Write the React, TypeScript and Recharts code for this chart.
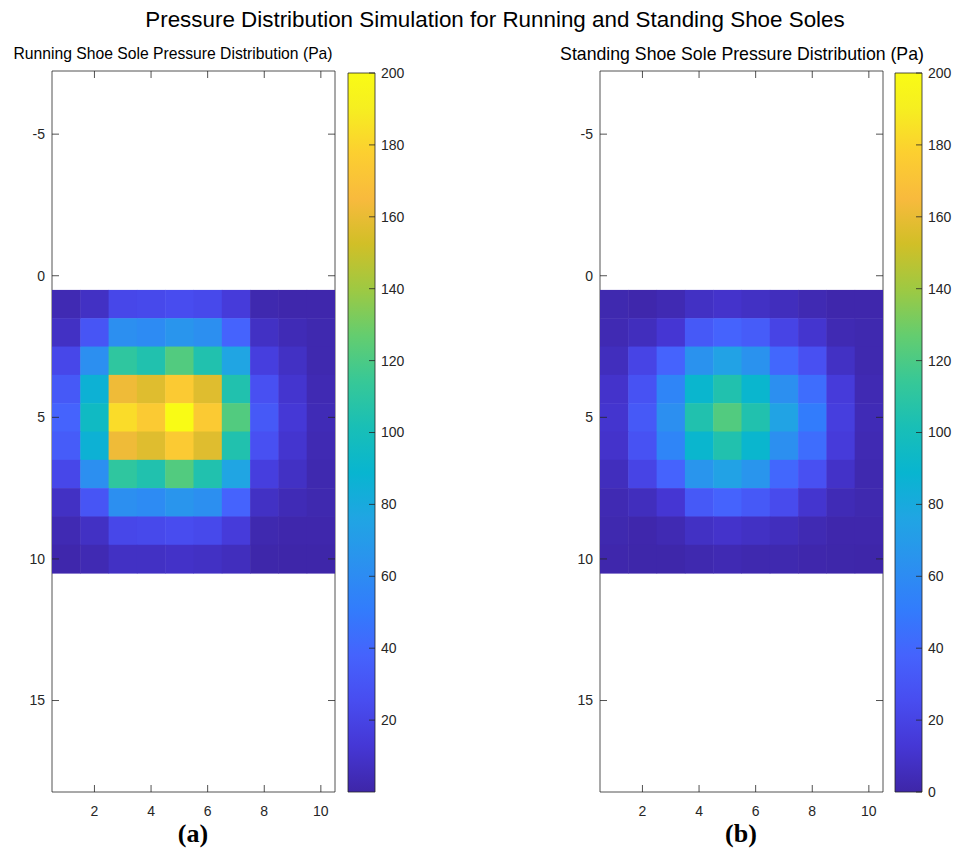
import { ScatterChart, Scatter, XAxis, YAxis, BarChart, Bar, ReferenceArea } from "recharts";

// pressure grids (Pa), rows top -> bottom, columns 1..10
const RUNNING = [
  [3, 8, 22, 23, 25, 23, 15, 2, 1, 1],
  [8, 30, 62, 60, 66, 62, 38, 8, 4, 2],
  [22, 62, 111, 105, 122, 105, 76, 17, 8, 2],
  [32, 86, 162, 157, 175, 157, 105, 27, 11, 3],
  [38, 95, 183, 175, 200, 175, 122, 32, 13, 4],
  [34, 86, 162, 157, 175, 157, 105, 27, 11, 3],
  [22, 62, 111, 105, 122, 105, 76, 17, 8, 2],
  [8, 30, 62, 60, 66, 62, 38, 8, 4, 2],
  [3, 8, 22, 23, 25, 23, 15, 2, 1, 1],
  [1, 3, 8, 8, 9, 8, 6, 0.5, 0.3, 0.2],
];

const STANDING = [
  [2, 1, 3, 8, 10, 8, 6, 3, 1, 1],
  [3, 6, 12, 32, 38, 34, 20, 11, 3, 2],
  [6, 20, 38, 64, 74, 64, 40, 27, 8, 2],
  [10, 28, 56, 90, 105, 90, 62, 43, 15, 3],
  [11, 32, 62, 105, 122, 105, 75, 51, 17, 4],
  [10, 28, 56, 90, 105, 90, 62, 43, 15, 3],
  [6, 20, 38, 66, 74, 66, 40, 27, 9, 2],
  [3, 6, 12, 32, 38, 32, 24, 11, 4, 2],
  [2, 1, 3, 8, 10, 8, 6, 3, 1, 1],
  [1, 0.5, 0.5, 2, 3, 2, 2, 1, 0.5, 0.3],
];

const X_TICKS = [2, 4, 6, 8, 10];
const Y_TICKS = [-5, 0, 5, 10, 15];
const CB_TICKS_RUNNING = [20, 40, 60, 80, 100, 120, 140, 160, 180, 200];
const CB_TICKS_STANDING = [0, 20, 40, 60, 80, 100, 120, 140, 160, 180, 200];
const CB_MAX = 200;

const X_DOMAIN: [number, number] = [0.5, 10.5];
const Y_DOMAIN: [number, number] = [-7.23, 18.23];

// parula colormap stops
const PARULA: [number, number, number, number][] = [
  [0.0, 62, 38, 168],
  [0.0635, 69, 55, 213],
  [0.127, 72, 77, 240],
  [0.19, 69, 99, 253],
  [0.254, 50, 124, 252],
  [0.317, 43, 145, 239],
  [0.381, 32, 165, 227],
  [0.444, 8, 181, 208],
  [0.508, 25, 191, 182],
  [0.571, 55, 200, 151],
  [0.635, 100, 205, 111],
  [0.698, 157, 201, 67],
  [0.762, 209, 191, 39],
  [0.825, 248, 186, 61],
  [0.889, 252, 207, 48],
  [0.952, 246, 239, 32],
  [1.0, 249, 251, 21],
];

function parula(t: number) {
  const v = Math.max(0, Math.min(1, t));
  for (let i = 1; i < PARULA.length; i++) {
    const [t1, r1, g1, b1] = PARULA[i];
    const [t0, r0, g0, b0] = PARULA[i - 1];
    if (v <= t1) {
      const f = (v - t0) / (t1 - t0);
      return `rgb(${Math.round(r0 + (r1 - r0) * f)},${Math.round(g0 + (g1 - g0) * f)},${Math.round(b0 + (b1 - b0) * f)})`;
    }
  }
  return "rgb(249,251,21)";
}

const FONT = "'Liberation Sans', Arial, sans-serif";
const TICK_TEXT = { fill: "#262626", fontSize: 14, fontFamily: FONT };
const LINE = { stroke: "#262626", strokeWidth: 0.8 };

const PLOT_W = 283;
const PLOT_H = 721;
const TICK_LEN = 7;
const X_LABEL_GAP = 14;

// bottom x tick: label + inward marks at bottom and top of the box
const XTick = (p: any) => {
  const x = p.x;
  const yAxis = p.y - X_LABEL_GAP;
  return (
    <g>
      <line x1={x} x2={x} y1={yAxis} y2={yAxis - TICK_LEN} {...LINE} />
      <line x1={x} x2={x} y1={yAxis - PLOT_H} y2={yAxis - PLOT_H + TICK_LEN} {...LINE} />
      <text x={x} y={p.y} dy="0.71em" textAnchor="middle" {...TICK_TEXT}>{p.payload.value}</text>
    </g>
  );
};

// left y tick: label + inward marks at left and right of the box
const YTick = (p: any) => {
  const y = p.y;
  const xAxis = p.x + 7;
  return (
    <g>
      <line x1={xAxis} x2={xAxis + TICK_LEN} y1={y} y2={y} {...LINE} />
      <line x1={xAxis + PLOT_W} x2={xAxis + PLOT_W - TICK_LEN} y1={y} y2={y} {...LINE} />
      <text x={p.x} y={y} dy="0.355em" textAnchor="end" {...TICK_TEXT}>{p.payload.value}</text>
    </g>
  );
};

// colorbar tick: label + inward mark on the right edge
const CbTick = (p: any) => {
  const y = p.y;
  const xAxis = p.x - 6;
  return (
    <g>
      <line x1={xAxis - 6} x2={xAxis} y1={y} y2={y} {...LINE} />
      <text x={p.x} y={y} dy="0.355em" textAnchor="start" {...TICK_TEXT}>{p.payload.value}</text>
    </g>
  );
};

function HeatPanel({ grid, left }: { grid: number[][]; left: number }) {
  const cells = grid.flatMap((row, r) => row.map((v, c) => ({ x: c + 1, y: r + 1, v })));
  const cw = PLOT_W / (X_DOMAIN[1] - X_DOMAIN[0]);
  const ch = PLOT_H / (Y_DOMAIN[1] - Y_DOMAIN[0]);
  const cell = (p: any) => (
    <rect
      x={p.cx - cw / 2}
      y={p.cy - ch / 2}
      width={cw + 0.5}
      height={ch + 0.5}
      fill={parula(p.payload.v / CB_MAX)}
    />
  );
  return (
    <div style={{ position: "absolute", left, top: 0 }}>
      <ScatterChart width={400} height={853} margin={{ top: 71, right: 65, bottom: 31, left: 12 }}>
        <XAxis xAxisId="b" type="number" dataKey="x" domain={X_DOMAIN} ticks={X_TICKS} allowDataOverflow
          height={30} tickLine={false} axisLine={false} tickSize={0} tickMargin={X_LABEL_GAP} tick={(p: any) => <XTick {...p} />} interval={0} />
        <YAxis yAxisId="l" type="number" dataKey="y" domain={Y_DOMAIN} reversed ticks={Y_TICKS} allowDataOverflow
          width={40} tickLine={false} axisLine={false} tickSize={0} tickMargin={7} tick={(p: any) => <YTick {...p} />} interval={0} />
        <Scatter xAxisId="b" yAxisId="l" data={cells} shape={cell} isAnimationActive={false} />
        <ReferenceArea xAxisId="b" yAxisId="l" x1={X_DOMAIN[0]} x2={X_DOMAIN[1]} y1={Y_DOMAIN[0]} y2={Y_DOMAIN[1]}
          fill="none" fillOpacity={0} stroke="#262626" strokeWidth={0.8} ifOverflow="visible" />
      </ScatterChart>
    </div>
  );
}

function ColorBar({ left, ticks, id }: { left: number; ticks: number[]; id: string }) {
  return (
    <div style={{ position: "absolute", left: left - 8, top: 0 }}>
      <BarChart width={80} height={853} data={[{ name: "cb", v: CB_MAX }]} barCategoryGap={0}
        margin={{ top: 73, right: 0, bottom: 61, left: 8 }}>
        <XAxis dataKey="name" hide />
        <YAxis orientation="right" type="number" domain={[0, CB_MAX]} ticks={ticks} width={45}
          tickLine={false} axisLine={false} tickSize={0} tickMargin={6} tick={(p: any) => <CbTick {...p} />} interval={0} />
        <Bar dataKey="v" fill={`url(#${id})`} stroke="#262626" strokeWidth={0.8} isAnimationActive={false} />
      </BarChart>
    </div>
  );
}

export default function App() {
  return (
    <div style={{ position: "absolute", left: 0, top: 0, width: 966, height: 853, background: "#fff", fontFamily: FONT }}>
      <svg width={0} height={0} style={{ position: "absolute" }}>
        <defs>
          {["cbA", "cbB"].map((id) => (
            <linearGradient key={id} id={id} x1="0" y1="1" x2="0" y2="0">
              {PARULA.map(([t, r, g, b]) => (
                <stop key={t} offset={t} stopColor={`rgb(${r},${g},${b})`} />
              ))}
            </linearGradient>
          ))}
        </defs>
      </svg>

      <div style={{ position: "absolute", left: 0, width: 990, top: 9, textAlign: "center", fontSize: 22.4, lineHeight: "22px", color: "#000" }}>
        Pressure Distribution Simulation for Running and Standing Shoe Soles
      </div>
      <div style={{ position: "absolute", left: 0, width: 346, top: 46, textAlign: "center", fontSize: 15.7, lineHeight: "16px", color: "#000" }}>
        Running Shoe Sole Pressure Distribution (Pa)
      </div>
      <div style={{ position: "absolute", left: 542, width: 400, top: 46, textAlign: "center", fontSize: 17.7, lineHeight: "16px", color: "#000" }}>
        Standing Shoe Sole Pressure Distribution (Pa)
      </div>

      <HeatPanel grid={RUNNING} left={0} />
      <ColorBar left={348} ticks={CB_TICKS_RUNNING} id="cbA" />
      <HeatPanel grid={STANDING} left={548} />
      <ColorBar left={895} ticks={CB_TICKS_STANDING} id="cbB" />

      <div style={{ position: "absolute", left: 143, width: 100, top: 821, textAlign: "center", fontFamily: "'Liberation Serif', 'Times New Roman', serif", fontWeight: "bold", fontSize: 26, lineHeight: "26px" }}>
        (a)
      </div>
      <div style={{ position: "absolute", left: 691, width: 100, top: 821, textAlign: "center", fontFamily: "'Liberation Serif', 'Times New Roman', serif", fontWeight: "bold", fontSize: 26, lineHeight: "26px" }}>
        (b)
      </div>
    </div>
  );
}
